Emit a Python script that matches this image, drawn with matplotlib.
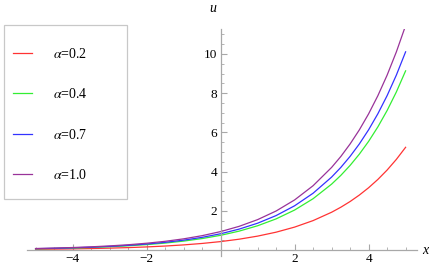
import matplotlib
matplotlib.use("Agg")
import matplotlib.pyplot as plt
from matplotlib.patches import Rectangle

plt.rcParams["font.family"] = "serif"
plt.rcParams["font.serif"] = ["Liberation Serif", "DejaVu Serif"]
plt.rcParams["mathtext.fontset"] = "stix"

# values
x = [-5.0, -4.5, -4.0, -3.5, -3.0, -2.5, -2.0, -1.5, -1.0, -0.5, 0.0,
     0.5, 1.0, 1.5, 2.0, 2.5, 3.0, 3.25, 3.5, 3.75, 4.0, 4.25, 4.5, 4.75, 5.0]

u_02 = [0.035, 0.045, 0.058, 0.075, 0.096, 0.123, 0.158, 0.203, 0.261, 0.335, 0.43,
        0.552, 0.709, 0.910, 1.169, 1.501, 1.927, 2.184, 2.474, 2.804, 3.177, 3.600, 4.079, 4.623, 5.24]
u_04 = [0.062, 0.079, 0.101, 0.130, 0.167, 0.215, 0.276, 0.354, 0.455, 0.584, 0.75,
        0.963, 1.237, 1.588, 2.039, 2.618, 3.361, 3.809, 4.316, 4.891, 5.542, 6.280, 7.116, 8.063, 9.14]
u_07 = [0.068, 0.087, 0.112, 0.144, 0.185, 0.238, 0.305, 0.392, 0.503, 0.646, 0.83,
        1.066, 1.368, 1.757, 2.256, 2.897, 3.720, 4.215, 4.777, 5.412, 6.133, 6.950, 7.875, 8.923, 10.11]
u_10 = [0.077, 0.099, 0.127, 0.163, 0.210, 0.269, 0.346, 0.444, 0.570, 0.732, 0.94,
        1.207, 1.550, 1.990, 2.555, 3.281, 4.213, 4.773, 5.410, 6.130, 6.946, 7.871, 8.919, 10.106, 11.45]

series = [u_02, u_04, u_07, u_10]
labels = [r"$\alpha$=0.2", r"$\alpha$=0.4", r"$\alpha$=0.7", r"$\alpha$=1.0"]
colors = ["#ff3333", "#33ee33", "#3333ff", "#993399"]

xticks = [-4, -2, 2, 4]
yticks = [2, 4, 6, 8, 10]

W, H = 434, 269
fig = plt.figure(figsize=(W / 100, H / 100), dpi=100)
ax = fig.add_axes([26.7 / W, 13.1 / H, 390 / W, 226.6 / H])

for ys, lab, c in zip(series, labels, colors):
    ax.plot(x, ys, color=c, lw=0.9, label=lab)

ax.set_xlim(-5.24, 5.30)
ax.set_ylim(-0.3, 11.26)

for side in ["top", "right"]:
    ax.spines[side].set_visible(False)
for side in ["left", "bottom"]:
    ax.spines[side].set_position(("data", 0))
    ax.spines[side].set_color("#a8a8a8")
    ax.spines[side].set_linewidth(0.9)

ax.set_xticks(xticks)
ax.set_yticks(yticks)
ax.set_xticks([v * 0.5 for v in range(-10, 11) if v != 0 and v % 4 != 0], minor=True)
ax.set_yticks([v * 0.5 for v in range(1, 23) if v % 4 != 0], minor=True)
ax.tick_params(which="both", direction="in", color="#a8a8a8", labelsize=9.5)
ax.tick_params(which="major", length=4, width=0.8)
ax.tick_params(which="minor", length=2.5, width=0.6)
ax.tick_params(axis="x", pad=2.5)
ax.tick_params(axis="y", pad=2.5)

fig.text(213 / W, 1 - 8 / H, "u", fontsize=10, style="italic", ha="center", va="center")
fig.text(425 / W, 1 - 251 / H, "x", fontsize=10, style="italic", ha="center", va="center")

# legend box
fig.patches.append(Rectangle((4.3 / W, 1 - 199 / H), 122.4 / W, 174 / H,
                             transform=fig.transFigure, fill=False,
                             edgecolor="#c8c8c8", lw=0.9))
fig.legend(loc="upper left", bbox_to_anchor=(6 / W, 1 - 40 / H), frameon=False,
           fontsize=10, borderpad=0, handlelength=1.4, handletextpad=1.5,
           labelspacing=1.9)

fig.savefig("out.png", dpi=100)
